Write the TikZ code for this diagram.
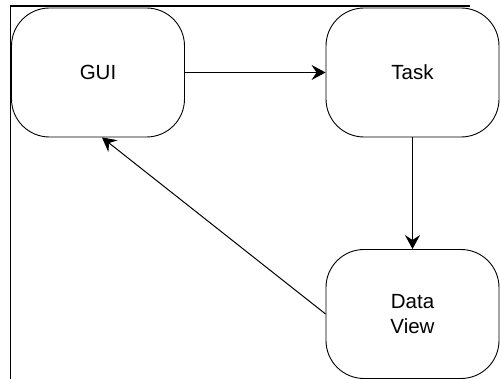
\documentclass[tikz,border=0pt]{standalone}
\usepackage{fontspec}
\setmainfont{Liberation Sans}
\usetikzlibrary{arrows.meta}
\begin{document}
\begin{tikzpicture}[x=1pt,y=-1pt,
  blk/.style={draw=black, line width=0.9pt, rounded corners=38pt, minimum width=173pt, minimum height=129pt, inner sep=0pt, align=center, font=\fontsize{20.5pt}{25pt}\selectfont},
  conn/.style={draw=black, line width=1pt, -{Stealth[length=14pt,width=15pt,inset=5pt]}}]
\useasboundingbox (0,0) rectangle (502,379);
\draw[line width=1.6pt] (10.5,379) -- (10.5,6) -- (470,6);
\node[blk] (gui) at (98,72.5) {GUI};
\node[blk] (task) at (412.5,72.5) {Task};
\node[blk] (dv) at (412.5,314) {Data\\View};
\draw[conn] (gui.east) -- (task.west);
\draw[conn] (task.south) -- (dv.north);
\draw[conn] (dv.west) -- ([xshift=4pt]gui.south);
\end{tikzpicture}
\end{document}
